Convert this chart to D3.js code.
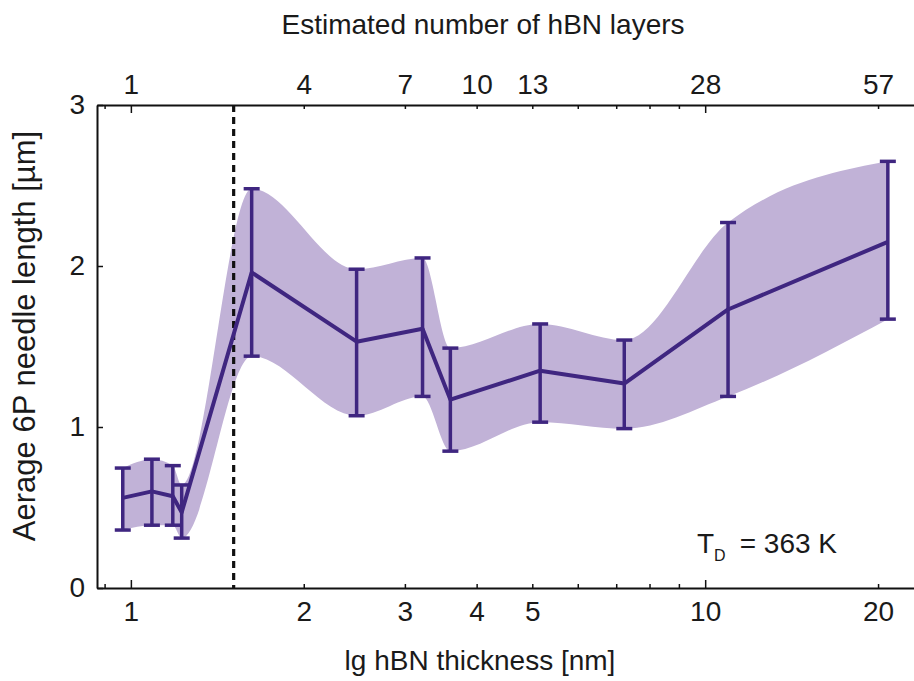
<!DOCTYPE html>
<meta charset="utf-8">
<head>
  <title>6P needle length vs hBN thickness</title>
  <script src="https://cdn.jsdelivr.net/npm/d3@7"></script>
  <style>
    body { margin: 0; background: #fff; }
    text { font-family: "Liberation Sans", Arial, sans-serif; fill: #1a1a1a; }
  </style>
</head>
<body>
<div id="chart"></div>
<script>

// hBN thickness (nm) and needle length (um)
var thickness = [0.968, 1.088, 1.183, 1.226, 1.623, 2.472, 3.22, 3.60, 5.16, 7.23, 10.96, 20.8];
var meanLen   = [0.56, 0.60, 0.57, 0.47, 1.96, 1.53, 1.61, 1.17, 1.35, 1.27, 1.73, 2.15];
var upperLen  = [0.745, 0.80, 0.76, 0.64, 2.48, 1.98, 2.05, 1.49, 1.64, 1.54, 2.27, 2.65];
var lowerLen  = [0.36, 0.39, 0.39, 0.31, 1.44, 1.07, 1.19, 0.85, 1.03, 0.99, 1.19, 1.67];

var labeledTicks = [1, 2, 3, 4, 5, 10, 20];
var minorTicks = [0.9, 6, 7, 8, 9];
var majorTicks = [1, 10];
var layerLabels = ["1", "4", "7", "10", "13", "28", "57"];
var yTicks = [0, 1, 2, 3];
var monolayerLimit = 1.51;

var W = 914, H = 681;
var plotLeft = 97, plotRight = 914, plotTop = 105, plotBottom = 588;

var svg = d3.select("#chart").append("svg")
  .attr("width", W)
  .attr("height", H);

var x = d3.scaleLog()
  .domain([0.873, 23.1])
  .range([plotLeft, plotRight]);

var y = d3.scaleLinear()
  .domain([0, 3])
  .range([plotBottom, plotTop]);

var purple = "#3f2680";
var bandFill = "#c1b2d7";

var rows = thickness.map(function(t, i) {
  return {t: t, m: meanLen[i], hi: upperLen[i], lo: lowerLen[i]};
});

// shaded band
var band = d3.area()
  .curve(d3.curveMonotoneX)
  .x(function(d) { return x(d.t); })
  .y0(function(d) { return y(d.lo); })
  .y1(function(d) { return y(d.hi); });

svg.append("path")
  .datum(rows)
  .attr("d", band)
  .attr("fill", bandFill);

// dashed monolayer line
svg.append("line")
  .attr("x1", x(monolayerLimit)).attr("x2", x(monolayerLimit))
  .attr("y1", y(3)).attr("y2", y(0))
  .attr("stroke", "#111")
  .attr("stroke-width", 3.2)
  .attr("stroke-dasharray", "7,5");

// error bars
var eb = svg.append("g").attr("stroke", purple).attr("stroke-width", 3.5);
rows.forEach(function(d) {
  var cx = x(d.t);
  eb.append("line").attr("x1", cx).attr("x2", cx).attr("y1", y(d.lo)).attr("y2", y(d.hi));
  eb.append("line").attr("x1", cx - 8).attr("x2", cx + 8).attr("y1", y(d.lo)).attr("y2", y(d.lo));
  eb.append("line").attr("x1", cx - 8).attr("x2", cx + 8).attr("y1", y(d.hi)).attr("y2", y(d.hi));
});

// mean line
var line = d3.line()
  .x(function(d) { return x(d.t); })
  .y(function(d) { return y(d.m); });

svg.append("path")
  .datum(rows)
  .attr("d", line)
  .attr("fill", "none")
  .attr("stroke", purple)
  .attr("stroke-width", 4)
  .attr("stroke-linejoin", "round");

// axes
var allTicks = labeledTicks.concat(minorTicks);

function styleAxis(g, dir) {
  g.select(".domain").attr("stroke", "#111").attr("stroke-width", 2);
  g.selectAll(".tick line").attr("stroke", "#111").attr("stroke-width", 1.5)
    .attr("y2", function(d) { return majorTicks.indexOf(d) >= 0 ? dir * 8 : dir * 4; });
  g.selectAll(".tick text").attr("font-size", 28).attr("fill", "#1a1a1a");
}

var xBottom = svg.append("g")
  .attr("transform", "translate(0," + plotBottom + ")")
  .call(d3.axisBottom(x)
    .tickValues(allTicks)
    .tickSizeInner(-4)
    .tickSizeOuter(0)
    .tickPadding(9)
    .tickFormat(function(d) { return labeledTicks.indexOf(d) >= 0 ? d : ""; }));
styleAxis(xBottom, -1);
xBottom.selectAll(".tick text").attr("dy", "0.85em");

var xTop = svg.append("g")
  .attr("transform", "translate(0," + plotTop + ")")
  .call(d3.axisTop(x)
    .tickValues(allTicks)
    .tickSizeInner(-4)
    .tickSizeOuter(0)
    .tickPadding(11)
    .tickFormat(function(d) {
      var i = labeledTicks.indexOf(d);
      return i >= 0 ? layerLabels[i] : "";
    }));
styleAxis(xTop, 1);

var yAxis = svg.append("g")
  .attr("transform", "translate(" + plotLeft + ",0)")
  .call(d3.axisLeft(y)
    .tickValues(yTicks)
    .tickSizeInner(-6)
    .tickSizeOuter(0)
    .tickPadding(12)
    .tickFormat(d3.format("d")));
yAxis.select(".domain").attr("stroke", "#111").attr("stroke-width", 2);
yAxis.selectAll(".tick line").attr("stroke", "#111").attr("stroke-width", 1.5);
yAxis.selectAll(".tick text").attr("font-size", 28).attr("fill", "#1a1a1a");

// titles
svg.append("text")
  .attr("x", 483).attr("y", 34)
  .attr("text-anchor", "middle")
  .attr("font-size", 28)
  .text("Estimated number of hBN layers");

svg.append("text")
  .attr("x", 480).attr("y", 670)
  .attr("text-anchor", "middle")
  .attr("font-size", 28)
  .text("lg hBN thickness [nm]");

svg.append("text")
  .attr("transform", "translate(35,336) rotate(-90)")
  .attr("text-anchor", "middle")
  .attr("font-size", 31)
  .text("Aerage 6P needle length [µm]");

var td = svg.append("text")
  .attr("x", 697).attr("y", 553)
  .attr("font-size", 28);
td.append("tspan").text("T");
td.append("tspan").attr("font-size", 16).attr("dy", 8).text("D");
td.append("tspan").attr("dy", -8).attr("dx", 14).text("= 363 K");

</script>
</body>
